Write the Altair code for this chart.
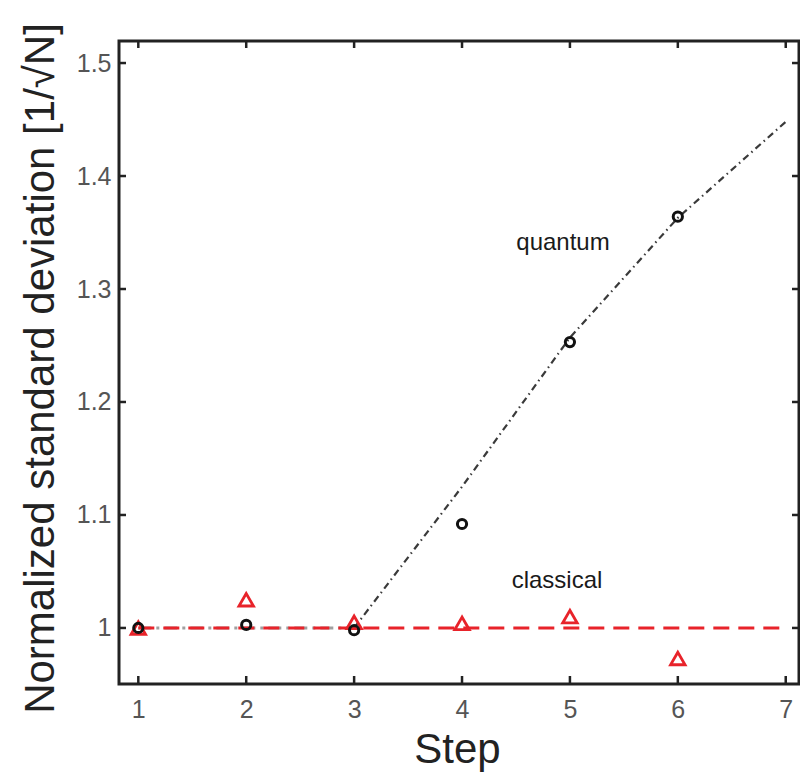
import altair as alt
import pandas as pd

# ---- data ----
steps = [1, 2, 3, 4, 5, 6]
quantum = [1.000, 1.0027, 0.998, 1.092, 1.253, 1.364]
classical = [1.000, 1.025, 1.005, 1.004, 1.010, 0.973]

flat_x = [1, 3]
flat_y = [1.0, 1.0]
rise_x = [3, 4, 5, 6, 7]
rise_y = [1.0, 1.125, 1.257, 1.363, 1.448]
ref_x = [1, 7]
ref_y = [1.0, 1.0]

x_ticks = [1, 2, 3, 4, 5, 6, 7]
y_ticks = [1.0, 1.1, 1.2, 1.3, 1.4, 1.5]
x_domain = [0.821, 7.123]
y_domain = [0.9504, 1.5195]

labels = ["quantum", "classical"]
label_x = [4.936, 4.88]
label_y = [1.3345, 1.0354]

W, H = 680, 643
FONT = "Liberation Sans"

pts = pd.DataFrame({"step": steps, "quantum": quantum, "classical": classical})
flat = pd.DataFrame({"x": flat_x, "y": flat_y})
rise = pd.DataFrame({"x": rise_x, "y": rise_y})
ref = pd.DataFrame({"x": ref_x, "y": ref_y})
lab = pd.DataFrame({"t": labels, "x": label_x, "y": label_y})
xt = pd.DataFrame({"v": x_ticks})
yt = pd.DataFrame({"v": y_ticks})

xscale = alt.Scale(domain=x_domain, nice=False, zero=False)
yscale = alt.Scale(domain=y_domain, nice=False, zero=False)

xaxis = alt.Axis(
    values=x_ticks, format="d", ticks=False, domain=False, grid=False,
    labelFont=FONT, labelFontSize=25, labelColor="#555", labelPadding=33,
    labelBaseline="alphabetic",
    title="Step", titleFont=FONT, titleFontSize=42, titleFontWeight="normal",
    titleColor="#222", titleX=338, titleY=78, titleAlign="center",
    titleBaseline="alphabetic", titleAnchor="start",
)
yaxis = alt.Axis(
    values=y_ticks, format=".1~f", ticks=False, domain=False, grid=False,
    labelFont=FONT, labelFontSize=25, labelColor="#555", labelPadding=8,
    title="Normalized standard deviation [1/√N]", titleFont=FONT,
    titleFontSize=42, titleFontWeight="normal", titleColor="#222",
    titleX=-66, titleY=327, titleAngle=270, titleAlign="center",
    titleBaseline="alphabetic", titleAnchor="start",
)

X = lambda f: alt.X(f, type="quantitative", scale=xscale, axis=xaxis)
Y = lambda f: alt.Y(f, type="quantitative", scale=yscale, axis=yaxis)

flat_line = alt.Chart(flat).mark_line(
    color="#a0a0a0", strokeWidth=3, strokeDash=[13, 5, 3, 5]
).encode(x=X("x"), y=Y("y"))

ref_line = alt.Chart(ref).mark_line(
    color="#e8232a", strokeWidth=3, strokeDash=[16, 9]
).encode(x=X("x"), y=Y("y"))

rise_line = alt.Chart(rise).mark_line(
    color="#3a3a3a", strokeWidth=2.2, strokeDash=[7, 4, 1.5, 4]
).encode(x=X("x"), y=Y("y"))

tri = alt.Chart(pts).mark_point(
    shape="triangle-up", size=210, filled=False, color="#e8232a",
    strokeWidth=2.8, opacity=1
).encode(x=X("step"), y=Y("classical"))

circ = alt.Chart(pts).mark_point(
    shape="circle", size=85, filled=False, color="#111111",
    strokeWidth=3, opacity=1
).encode(x=X("step"), y=Y("quantum"))

txt = alt.Chart(lab).mark_text(
    font=FONT, fontSize=24, color="#1a1a1a", align="center",
    baseline="alphabetic", fontWeight=500
).encode(x=X("x"), y=Y("y"), text="t:N")

tick_style = dict(color="#222", strokeWidth=2.5)
left_t = alt.Chart(yt).mark_rule(**tick_style).encode(
    y=Y("v"), x=alt.value(0), x2=alt.value(7))
right_t = alt.Chart(yt).mark_rule(**tick_style).encode(
    y=Y("v"), x=alt.value(W), x2=alt.value(W - 7))
bottom_t = alt.Chart(xt).mark_rule(**tick_style).encode(
    x=X("v"), y=alt.value(H), y2=alt.value(H - 8))
top_t = alt.Chart(xt).mark_rule(**tick_style).encode(
    x=X("v"), y=alt.value(0), y2=alt.value(7))

chart = alt.layer(
    flat_line, ref_line, rise_line, tri, circ, txt,
    left_t, right_t, bottom_t, top_t
).properties(
    width=W, height=H,
    autosize=alt.AutoSizeParams(type="none"),
    padding={"left": 119, "top": 41, "right": 1, "bottom": 89},
    background="white",
).configure_view(
    stroke="#222", strokeWidth=3
)

chart.save("out.html", embed_options={"renderer": "svg", "actions": False})
